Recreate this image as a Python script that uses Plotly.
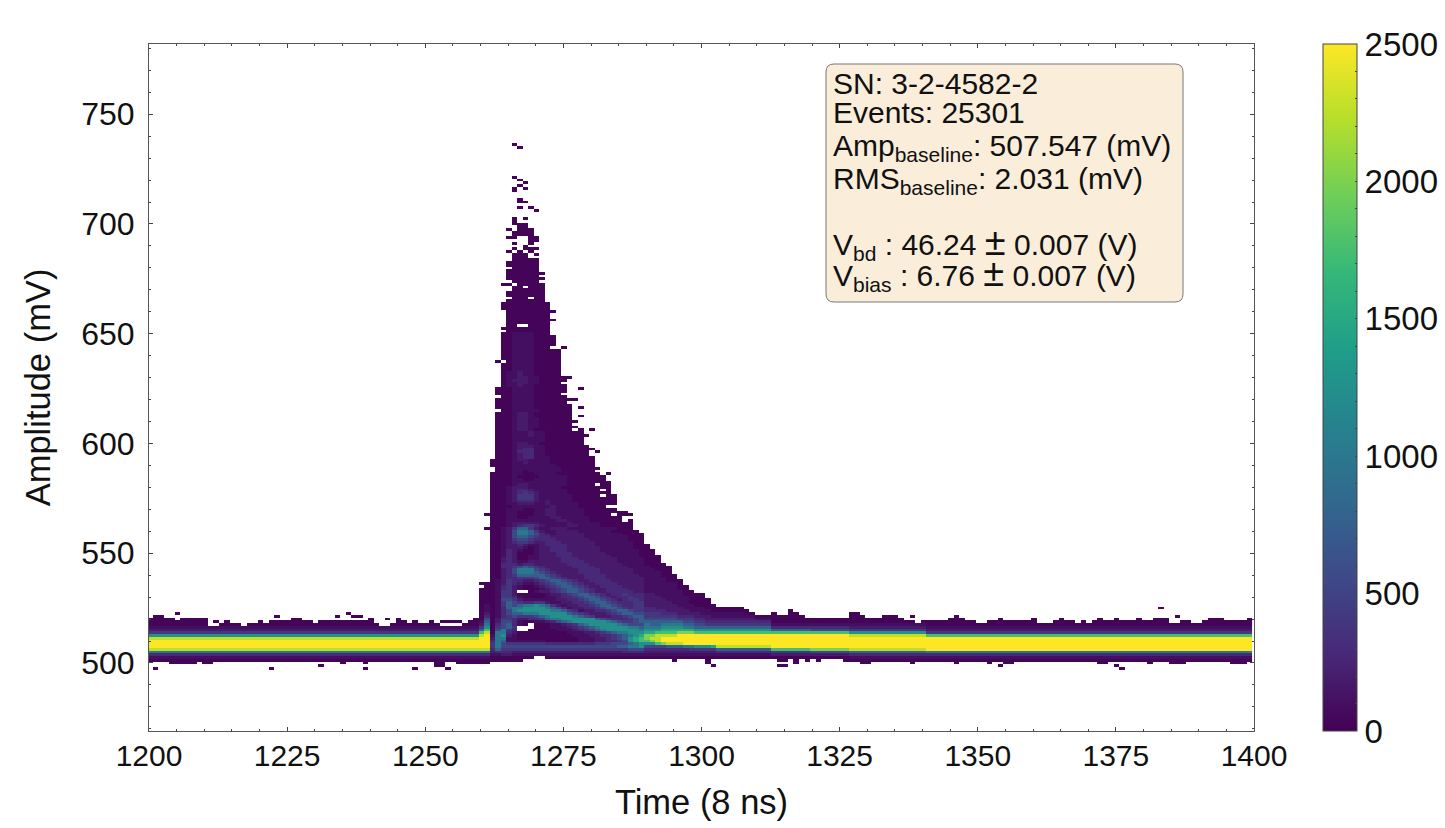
import plotly.graph_objects as go

# ---- count levels ----
LEVELS = {"0": 20, "1": 100, "2": 180, "3": 280, "4": 400, "5": 550, "6": 750, "7": 1000,
          "8": 1250, "9": 1500, "A": 1750, "B": 2000, "C": 2250, "D": 2500}

FIRST_COL = 1200
LAST_COL = 1399
ROW_LOW = -4
ROW_HIGH = 190
AMP_ZERO = 500.0
AMP_STEP = 1.25

# vertical baseline profiles, index 0 = row 0
BASE_LEFT = "00137CDDDC842100000000"
BASE_TAIL_A = "00024ADDDDDA6310000000"
BASE_TAIL_B = "00025BDDDDDA5310000000"
BASE_TAIL_C = "00136CDDDDC84210000000"
BASE_RIGHT = "00137DDDDDA42100000000"
# first column from which each profile holds, right of the pulse
TAIL_PROFILES = [(1313, BASE_TAIL_A), (1320, BASE_TAIL_B), (1327, BASE_TAIL_C), (1341, BASE_RIGHT)]

# top / bottom occupied row of the baseline band for each column
TOP_LEFT = [16, 17, 17, 16, 16, 15, 16, 16, 16, 16, 16, 13, 13, 14, 15, 14, 14, 13, 14, 14,
            14, 14, 15, 15, 15, 15, 16, 16, 15, 15, 14, 15, 15, 15, 15, 15, 15, 15, 15, 15,
            15, 14, 13, 13, 14, 16, 15, 14, 15, 14, 14, 15, 14, 13, 13, 13, 13, 14]
BOTTOM_LEFT = [1, 1, 1, 1, 0, 0, 0, 0, 0, 1, 0, 0, 1, 1, 1, 1, 1, 1, 1, 1,
               1, 1, 1, 1, 1, 1, 1, 1, 1, 1, 1, 1, 1, 1, 1, 0, 1, 1, 1, 0,
               1, 1, 1, 1, 1, 1, 1, 1, 1, 1, 1, 1, 0, 0, 1, 1, 0, 0]
TOP_RIGHT = [18, 17, 17, 18, 18, 17, 16, 16, 16, 16, 16, 16, 16, 16, 17, 18, 17, 16, 16, 16,
             16, 17, 17, 16, 15, 15, 14, 15, 15, 15, 15, 15, 16, 17, 16, 15, 15, 14, 14, 15,
             15, 16, 15, 15, 15, 15, 15, 16, 14, 14, 14, 15, 16, 15, 15, 14, 15, 14, 15, 16,
             15, 15, 16, 15, 15, 15, 16, 15, 15, 16, 16, 16, 14, 14, 15, 15, 14, 14, 15, 16,
             16, 16, 15, 15, 15, 15, 16]
BOTTOM_RIGHT = [2, 1, 1, 2, 1, 2, 1, 2, 1, 2, 2, 2, 2, 1, 1, 1, 0, 0, 1, 1,
                1, 1, 1, 1, 1, 0, 1, 1, 1, 1, 1, 1, 1, 0, 1, 1, 1, 1, 1, 0,
                1, 1, 0, 0, 1, 1, 1, 1, 1, 1, 1, 1, 1, 1, 1, 1, 1, 1, 1, 0,
                0, 1, 1, 1, 1, 1, 1, 1, 0, 1, 1, 1, 0, 0, 0, 1, 1, 1, 1, 1,
                1, 1, 1, 0, 0, 0, 1]

# isolated single-count bins: (column, row)
STRAYS = [(1201, -2), (1222, -2), (1231, -1), (1205, 18), (1212, 15), (1220, 15), (1223, 17),
          (1236, 18), (1234, 17), (1237, 17), (1238, 17), (1240, 16), (1243, 16), (1253, 15),
          (1254, 15), (1255, 15), (1256, 15), (1239, -2), (1248, -2), (1252, -1), (1253, -1),
          (1254, -2), (1301, 1), (1301, 0), (1302, -1), (1314, -1), (1315, -1), (1316, 19),
          (1317, 18), (1317, 0), (1327, 18), (1328, 17), (1333, 17), (1334, 17), (1338, 17),
          (1354, -1), (1375, -1), (1376, -2), (1383, 20), (1386, 17), (1294, 35)]

# column runs near the pulse: (first column, last column, first row, cells upward)
COLUMN_RUNS = [
    (1258, 1258, 0, "0013" "7CDD" "DC84" "2100"),
    (1259, 1259, 0, "0013" "7CDD" "DC84" "21000"),
    (1260, 1260, 0, "0013" "7CDD" "DDCA" "6421" "0000" "0000" "0000"),
    (1261, 1261, 0, "0013" "7CDD" "DDDC" "A876" "5321" "1100" "0000" "00"),
    (1290, 1290, 2, "012358ABB9" "8776544332" "2222111111" "1111000000" "00"),
    (1291, 1291, 2, "012358BCB9" "8766544332" "2222111111" "1110000000"),
    (1292, 1292, 2, "01235ACCCA" "8766544322" "2221111111" "11000000"),
    (1293, 1293, 2, "01235BDDCA" "9876543322" "2211111111" "00000"),
    (1294, 1294, 2, "01236CDDCA" "9876543222" "2111111100" "000"),
    (1295, 1295, 1, "00123" "6CDDCA9876" "5432221111" "1111000"),
    (1296, 1296, 2, "01236CDDDB" "9876432221" "111110000"),
    (1297, 1297, 2, "01237DDDDB" "9765432211" "1110000"),
    (1298, 1298, 2, "01247DDDDB" "9765432111" "00000"),
    (1299, 1299, 2, "01248DDDDA" "8654322110" "0000"),
    (1300, 1300, 2, "01248DDDDA" "8654321110" "0000"),
    (1301, 1301, 2, "01248DDDDA" "8643221100" "00"),
    (1302, 1302, 2, "01249DDDDA" "8643211000"),
    (1303, 1307, 2, "0136CDDDDA" "864321100"),
    (1308, 1308, 2, "0136CDDDDA" "86432100"),
    (1309, 1309, 2, "0136CDDDDA" "8643210"),
    (1310, 1312, 2, "0136CDDDDA" "864310"),
]

# pulse table: (row, first column, cells to the right)
PULSE_ROWS = [
    (189, 1264, "..0"), (188, 1264, "...0"), (177, 1264, "..0"), (176, 1264, "...0"),
    (175, 1264, "....0"), (174, 1264, "...0"), (173, 1264, "..0.0"), (172, 1264, "..0"),
    (169, 1264, "...0"), (168, 1264, "...00"), (166, 1264, "...0.0"), (165, 1264, "......0"),
    (162, 1264, "..0.0"), (161, 1264, "..0"), (160, 1264, "..000"), (159, 1264, "...00"),
    (158, 1264, ".0.000"), (157, 1264, "..0000"), (156, 1264, "..0000"), (155, 1264, ".00..00"),
    (154, 1264, ".....00"), (153, 1264, "..0..0"), (152, 1264, "....0"), (151, 1264, "..0.000"),
    (150, 1264, ".0.0.0"), (149, 1264, "..000.0"), (148, 1264, "..000"), (147, 1264, "..00000"),
    (146, 1264, ".000000"), (145, 1264, ".000000"), (144, 1264, "..00000"), (143, 1264, ".000000"),
    (142, 1264, ".0000000"), (141, 1264, ".000000"), (140, 1264, ".0000000"), (139, 1264, "..00000"),
    (138, 1264, "00.00000"), (137, 1264, "..00.000"), (136, 1264, "..000000"), (135, 1264, ".0000000"),
    (134, 1264, ".0000000"), (133, 1264, "..000.00"), (132, 1264, ".0000000"), (131, 1264, "000000000"),
    (130, 1264, "000000000"), (129, 1264, "000000000"), (128, 1264, ".000000000"), (127, 1264, ".00000000"),
    (126, 1264, ".00000000"), (125, 1264, ".000000000"), (124, 1264, ".00000000"), (123, 1264, ".00..0000"),
    (122, 1264, "000000000"), (121, 1264, ".00000000"),
    (120, 1264, "001111000"), (119, 1264, "0011110000"), (118, 1264, "0011110000"), (117, 1264, "0011110000"),
    (116, 1264, "0011110000"), (115, 1264, "001111000..0"), (114, 1264, "00111100000"), (113, 1264, "00111100000"),
    (112, 1264, "00111100000"), (111, 1264, "00111100000"), (110, 1263, "0.0111100000"), (109, 1264, "00111100000"),
    (108, 1264, "00111100000"), (107, 1264, "00111100000"), (106, 1264, "01121100000"), (105, 1264, "01121100000"),
    (104, 1264, "0112211000000"), (103, 1264, "012221100000"), (102, 1264, "01122110000"), (101, 1264, "011211000000"),
    (100, 1263, "0001111000000..0"), (99, 1263, "0001111000000"), (98, 1263, "000111100000"), (97, 1264, "001111000000"),
    (96, 1263, "000111100000000"), (95, 1263, "0001111000000"), (94, 1263, "00011110000000"), (93, 1263, "00011110000000.0"),
    (92, 1264, "0011111000000"), (91, 1263, "00012210000000"), (90, 1263, "00012210000000.0"), (89, 1263, "00012211000000"),
    (88, 1263, "000122110000000"), (87, 1263, "00012211000000"), (86, 1263, "000122110000000"), (85, 1263, "00012210000000.0.0"),
    (84, 1263, "0001112110000000"), (83, 1263, "00011121100000000"), (82, 1263, "0001111110000000"), (81, 1263, "0001111110000000"),
    (80, 1263, "0001221100000000"), (79, 1263, "00012221100000000"), (78, 1263, "000123311000000000"), (77, 1263, "00013331100000000.0"),
    (76, 1263, "00012331100000000"), (75, 1263, "000123311100000000"), (74, 1262, "0000122111100000000"), (73, 1262, "0000112111100000000"),
    (72, 1262, "0000111111110000000"), (71, 1263, "0001111111110000000"), (70, 1263, "000110111111000000"), (69, 1262, "00001100111100000000.0"),
    (68, 1262, "000010000111110000000"), (67, 1262, "000011001111110000000"), (66, 1262, "0000111111111100000000"), (65, 1262, "0000122111111100000.00"),
    (64, 1262, "0001222111111000000000"), (63, 1262, "00012332111111000000.0"), (62, 1262, "0001234321111100000000"), (61, 1262, "00012444211111100000.00"),
    (60, 1262, "00012444211111100000000"), (59, 1262, "00012333212111100000000"), (58, 1262, "00011222112111110000000"), (57, 1262, "000011111112111100000."),
    (56, 1262, "00011100112211111000000"), (55, 1262, "0001100011221111100000000"), (54, 1261, "00001100011221111100000.000"), (53, 1262, "000110011112211111000000"),
    (52, 1262, "000111111111221111000000.0"), (51, 1262, "00012222211111211111000000"), (50, 1262, "00012344321111221111000000"),
    (49, 1261, "000124664211222111111111000"), (48, 1262, "001257764211222211111100000"), (47, 1262, "0012577653212222211111110000"),
    (46, 1262, "0012566543322222211111111000"), (45, 1262, "0012455433332222221111111000"), (44, 1262, "0012344322333222222111111100"),
    (43, 1262, "0012232112333322222111111100"), (42, 1262, "0012221012233322222211111100"), (41, 1262, "0013210012233322222211111110"),
    (40, 1262, "0013200012223332222221111110"), (39, 1262, "0013200112223332222222111110"), (38, 1262, "0023200112222333222222211111"),
    (37, 1262, "0023211222222333322222211111"), (36, 1262, "0033323322222233332222221111"), (35, 1262, "0033456543222223333222222111"),
    (34, 1262, "0023577754322222333322222211"), (33, 1262, "0023577765432222333322222211"), (32, 1262, "0023466666543222233332222221"),
    (31, 1262, "0023344456654322233332222222"), (30, 1262, "0124332234566543223333222222"), (29, 1260, "0.0124321123456654322333322222"),
    (28, 1262, "0134210012345665432233332222"), (27, 1262, "0134210001234566543223333222"), (26, 1262, "01442..012234566543223333322"),
    (25, 1262, "0144200000122345665432334333"), (24, 1262, "0144310000112334566543233433"), (23, 1262, "0155421111112233456654323443"),
    (22, 1262, "0146543344211223345665433344"), (21, 1262, "0146567787642122334566543344"), (20, 1262, "0136778888765312233456654344"),
    (19, 1262, "0135788888877643122334566544"), (18, 1262, "0135667778888865432223456655"), (17, 1262, "0134544456788887654222334566"),
    (16, 1262, "0244322334677888888654333456"), (15, 1262, "0255310011235678888887654456"), (14, 1262, "0356310.00011234678888876555"),
    (13, 1262, "04564...00011123456788888776"), (12, 1262, "05743..000001112345678888887"), (11, 1262, "0773200000000011122345677888"),
    (10, 1262, "1782100000000001112233456789"), (9, 1262, "277110000000000011122345689A"), (8, 1262, "376111111100000011122334589A"),
    (7, 1262, "4754444444333333333444555678"), (6, 1262, "4755555555555555555555566778"), (5, 1262, "3644444444444444444444444555"),
    (4, 1262, "2333222222222222222222223333"), (3, 1262, "1122111111111111111111111111"), (2, 1262, "00000000..000000000000000000"),
    (1, 1262, "000000"),
]

# ---- axis labels ----
X_TICKS = [1200, 1225, 1250, 1275, 1300, 1325, 1350, 1375, 1400]
Y_TICKS = [500, 550, 600, 650, 700, 750]
CBAR_TICKS = list(range(0, 2501, 100))
PM = '\u00a0<span style="font-size:38px">±</span>\u00a0'
INFO_LINES = [
    ("SN: 3-2-4582-2", 83),
    ("Events: 25301", 113),
    ("Amp<sub>baseline</sub>: 507.547 (mV)", 147),
    ("RMS<sub>baseline</sub>: 2.031 (mV)", 181),
    ("V<sub>bd</sub> : 46.24" + PM + "0.007 (V)", 243),
    ("V<sub>bias</sub> : 6.76" + PM + "0.007 (V)", 274),
]

# ---- assemble the histogram grid ----
columns = list(range(FIRST_COL, LAST_COL + 1))
rows = list(range(ROW_LOW, ROW_HIGH + 1))
grid = [[None] * len(columns) for _ in rows]


def put(col, row, ch):
    if ch == "." or not (FIRST_COL <= col <= LAST_COL and ROW_LOW <= row <= ROW_HIGH):
        return
    grid[row - ROW_LOW][col - FIRST_COL] = LEVELS[ch]


for i, (top, bottom) in enumerate(zip(TOP_LEFT, BOTTOM_LEFT)):
    for r in range(bottom, top + 1):
        put(FIRST_COL + i, r, BASE_LEFT[max(r, 0)])
for i, (top, bottom) in enumerate(zip(TOP_RIGHT, BOTTOM_RIGHT)):
    col = 1313 + i
    profile = [p for start, p in TAIL_PROFILES if col >= start][-1]
    for r in range(bottom, top + 1):
        put(col, r, profile[max(r, 0)])
for col, row in STRAYS:
    put(col, row, "0")
for first, last, row0, cells in COLUMN_RUNS:
    for col in range(first, last + 1):
        for k, ch in enumerate(cells):
            put(col, row0 + k, ch)
for row, col0, cells in PULSE_ROWS:
    for k, ch in enumerate(cells):
        put(col0 + k, row, ch)

W, H = 1445, 828


def px(x):
    return x / W


def py(y):
    return 1 - y / H


fig = go.Figure(go.Heatmap(
    x=[c + 0.15 for c in columns],
    y=[AMP_ZERO + AMP_STEP * r for r in rows],
    z=grid,
    zmin=0, zmax=2500,
    colorscale="Viridis",
    hoverongaps=False,
    colorbar=dict(
        xref="container", yref="container",
        x=1323 / W, xanchor="left",
        y=1 - 731 / H, yanchor="bottom",
        lenmode="pixels", len=687,
        thicknessmode="pixels", thickness=34,
        xpad=0, ypad=0,
        outlinecolor="#444", outlinewidth=1,
        tickmode="array", tickvals=CBAR_TICKS,
        ticktext=[str(v) if v % 500 == 0 else " " for v in CBAR_TICKS],
        ticks="inside", ticklen=2, tickcolor="#444", tickwidth=1,
        tickfont=dict(family="Liberation Sans", size=33, color="#111"),
    ),
))

tick_x = dict(family="Liberation Sans", size=30, color="#111")
tick_y = dict(family="Liberation Sans", size=32, color="#111")
title_font = dict(family="Liberation Sans", size=34.5, color="#111")
box = dict(x0=826, x1=1183, y0=64, y1=302, r=8)
path = (
    f"M {px(box['x0'] + box['r'])} {py(box['y0'])} L {px(box['x1'] - box['r'])} {py(box['y0'])} "
    f"Q {px(box['x1'])} {py(box['y0'])} {px(box['x1'])} {py(box['y0'] + box['r'])} "
    f"L {px(box['x1'])} {py(box['y1'] - box['r'])} "
    f"Q {px(box['x1'])} {py(box['y1'])} {px(box['x1'] - box['r'])} {py(box['y1'])} "
    f"L {px(box['x0'] + box['r'])} {py(box['y1'])} "
    f"Q {px(box['x0'])} {py(box['y1'])} {px(box['x0'])} {py(box['y1'] - box['r'])} "
    f"L {px(box['x0'])} {py(box['y0'] + box['r'])} "
    f"Q {px(box['x0'])} {py(box['y0'])} {px(box['x0'] + box['r'])} {py(box['y0'])} Z"
)

fig.update_layout(
    width=W, height=H,
    margin=dict(l=0, r=0, t=0, b=0, pad=0, autoexpand=False),
    paper_bgcolor="white", plot_bgcolor="white",
    font=tick_y,
    xaxis=dict(
        domain=[px(149), px(1254)], range=[1200, 1400],
        tickmode="array", tickvals=X_TICKS, ticks="inside", ticklen=4, tickwidth=1, tickcolor="#444",
        minor=dict(dtick=5, ticks="inside", ticklen=2, tickcolor="#444", tickwidth=1, showgrid=False),
        showline=True, linecolor="#555", linewidth=1, mirror="allticks",
        showgrid=False, zeroline=False, tickfont=tick_x, ticklabelstandoff=-2,
        title=dict(text="Time (8 ns)", font=title_font, standoff=18),
    ),
    yaxis=dict(
        domain=[py(731), py(44)], range=[469, 782],
        tickmode="array", tickvals=Y_TICKS, ticks="inside", ticklen=4, tickwidth=1, tickcolor="#444",
        minor=dict(dtick=10, ticks="inside", ticklen=2, tickcolor="#444", tickwidth=1, showgrid=False),
        showline=True, linecolor="#555", linewidth=1, mirror="allticks",
        showgrid=False, zeroline=False, tickfont=tick_y, ticklabelstandoff=7,
        title=dict(text="Amplitude (mV)", font=title_font, standoff=20),
    ),
    shapes=[
        dict(type="path", path=path, xref="paper", yref="paper", fillcolor="#FAEEDA",
             line=dict(color="#777", width=1), layer="above"),
        dict(type="rect", xref="paper", yref="paper", x0=px(1323), x1=px(1357), y0=py(731), y1=py(729),
             fillcolor="#AAAAAA", line=dict(width=0), layer="above"),
    ],
    annotations=[
        dict(text=txt, x=px(833), y=py(yc), xref="paper", yref="paper", xanchor="left", yanchor="middle",
             showarrow=False, align="left", borderpad=0, borderwidth=0,
             font=dict(family="Liberation Sans", size=30, color="#111"))
        for txt, yc in INFO_LINES
    ],
)

fig.write_html("out.html", config=dict(displayModeBar=False),
               post_script="document.body.style.margin='0';")
